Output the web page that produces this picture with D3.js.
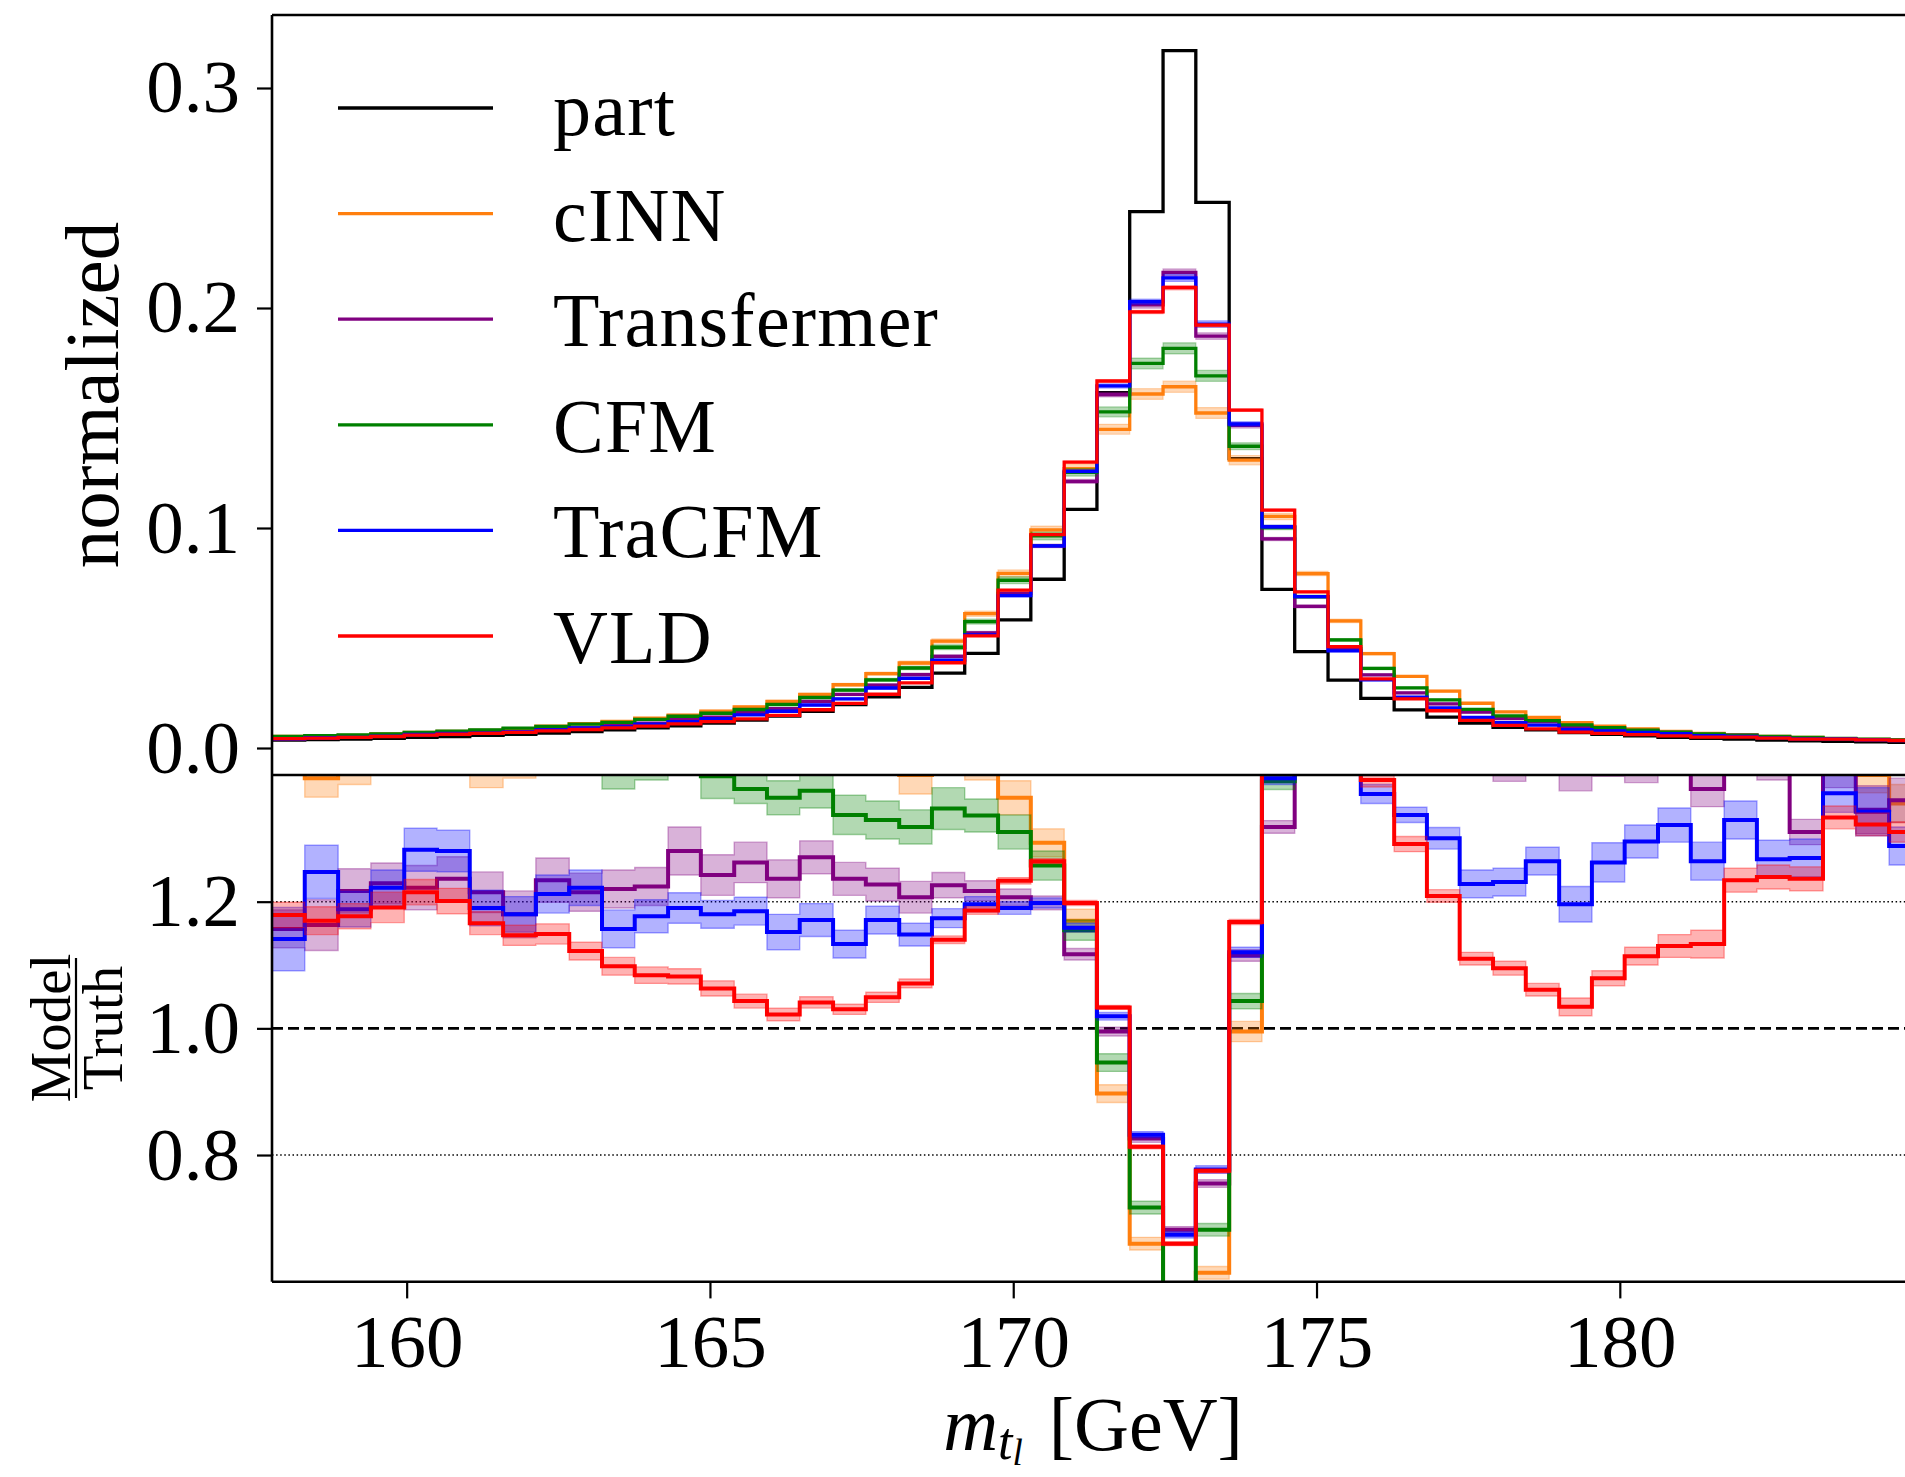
<!DOCTYPE html>
<html><head><meta charset="utf-8">
<script src="https://cdn.jsdelivr.net/npm/d3@7"></script>
<style>
html,body{margin:0;padding:0;background:#fff;}
svg{display:block;}
text{font-family:"Liberation Serif","DejaVu Serif",serif;fill:#000;}
</style></head><body>
<svg id="chart" width="1905" height="1477"></svg>
<script>
// ---------- DATA ----------
const binEdges = [157.78,158.32,158.87,159.41,159.96,160.50,161.04,161.59,162.13,162.68,
  163.22,163.76,164.31,164.85,165.40,165.94,166.48,167.03,167.57,168.12,
  168.66,169.20,169.75,170.29,170.84,171.38,171.92,172.47,173.01,173.56,
  174.10,174.64,175.19,175.73,176.28,176.82,177.36,177.91,178.45,179.00,
  179.54,180.08,180.63,181.17,181.72,182.26,182.80,183.35,183.89,184.44,184.98];

const partValues = [0.0036,0.0038,0.0041,0.0044,0.0048,0.0052,0.0057,0.0062,0.0068,0.0075,
  0.0083,0.0092,0.0101,0.0113,0.0127,0.0145,0.0167,0.0197,0.0233,0.0276,
  0.0340,0.0430,0.0582,0.0767,0.1085,0.1615,0.2438,0.3170,0.2480,0.1315,
  0.0721,0.0438,0.0309,0.0226,0.0173,0.0140,0.0113,0.0094,0.0082,0.0070,
  0.0062,0.0055,0.0049,0.0044,0.0040,0.0036,0.0033,0.0030,0.0028,0.0026];

const ratioCINN = [1.450,1.395,1.410,1.470,1.480,1.460,1.405,1.420,1.460,1.470,
  1.460,1.470,1.480,1.480,1.470,1.460,1.460,1.460,1.450,1.400,
  1.430,1.420,1.364,1.293,1.170,0.897,0.660,0.518,0.614,0.995,
  1.460,1.810,1.870,1.900,1.880,1.850,1.800,1.750,1.700,1.650,
  1.600,1.580,1.550,1.520,1.500,1.480,1.460,1.430,1.400,1.355];
const ratioTransfermer = [1.157,1.163,1.217,1.229,1.222,1.236,1.215,1.180,1.234,1.215,
  1.220,1.224,1.280,1.242,1.262,1.236,1.270,1.236,1.227,1.207,
  1.226,1.217,1.207,1.198,1.117,0.995,0.826,0.682,0.755,1.115,
  1.318,1.470,1.460,1.470,1.450,1.430,1.440,1.420,1.450,1.405,
  1.430,1.420,1.440,1.378,1.450,1.420,1.310,1.410,1.345,1.360];
const ratioCFM = [1.460,1.470,1.450,1.460,1.470,1.470,1.450,1.460,1.440,1.450,
  1.405,1.412,1.430,1.398,1.378,1.364,1.375,1.337,1.329,1.318,
  1.347,1.336,1.310,1.257,1.155,0.946,0.717,0.573,0.682,1.043,
  1.390,1.570,1.590,1.600,1.580,1.560,1.550,1.550,1.520,1.500,
  1.500,1.480,1.470,1.460,1.460,1.450,1.450,1.440,1.440,1.430];
const ratioTraCFM = [1.141,1.247,1.188,1.222,1.282,1.280,1.190,1.180,1.212,1.222,
  1.157,1.177,1.190,1.180,1.185,1.152,1.171,1.133,1.171,1.148,
  1.174,1.196,1.190,1.198,1.159,1.019,0.832,0.674,0.777,1.120,
  1.395,1.570,1.430,1.370,1.337,1.300,1.228,1.231,1.264,1.196,
  1.262,1.295,1.321,1.264,1.329,1.267,1.269,1.371,1.342,1.288];
const ratioVLD = [1.179,1.170,1.177,1.191,1.215,1.201,1.166,1.147,1.149,1.122,
  1.098,1.084,1.082,1.063,1.043,1.022,1.041,1.030,1.049,1.071,
  1.140,1.186,1.233,1.264,1.198,1.033,0.813,0.660,0.775,1.168,
  1.500,1.620,1.490,1.392,1.291,1.209,1.110,1.095,1.061,1.034,
  1.079,1.114,1.130,1.133,1.234,1.239,1.236,1.333,1.322,1.310];

const errCINN = [0.030,0.030,0.025,0.030,0.030,0.030,0.025,0.025,0.030,0.030,
  0.030,0.030,0.030,0.030,0.030,0.030,0.030,0.030,0.030,0.030,
  0.028,0.028,0.027,0.022,0.018,0.014,0.010,0.008,0.010,0.016,
  0.020,0.022,0.025,0.025,0.025,0.025,0.025,0.025,0.025,0.025,
  0.028,0.028,0.028,0.028,0.028,0.028,0.030,0.030,0.028,0.030];
const errTransfermer = [0.030,0.040,0.035,0.032,0.035,0.035,0.032,0.037,0.035,0.030,
  0.030,0.030,0.038,0.032,0.032,0.030,0.026,0.026,0.026,0.025,
  0.020,0.016,0.013,0.011,0.009,0.007,0.006,0.005,0.006,0.009,
  0.010,0.015,0.018,0.020,0.022,0.025,0.028,0.030,0.030,0.030,
  0.032,0.032,0.035,0.028,0.035,0.028,0.020,0.030,0.038,0.035];
const errCFM = [0.030,0.030,0.030,0.030,0.030,0.030,0.030,0.030,0.030,0.030,
  0.027,0.020,0.025,0.035,0.023,0.027,0.027,0.031,0.030,0.027,
  0.033,0.026,0.027,0.023,0.016,0.014,0.010,0.008,0.010,0.012,
  0.013,0.018,0.020,0.022,0.022,0.024,0.025,0.025,0.025,0.025,
  0.025,0.025,0.025,0.028,0.028,0.028,0.028,0.028,0.028,0.028];
const errTraCFM = [0.050,0.042,0.028,0.028,0.034,0.033,0.028,0.028,0.030,0.028,
  0.030,0.026,0.024,0.022,0.022,0.028,0.026,0.022,0.022,0.018,
  0.015,0.012,0.010,0.008,0.007,0.006,0.005,0.005,0.006,0.008,
  0.010,0.012,0.014,0.015,0.012,0.017,0.022,0.022,0.022,0.028,
  0.031,0.026,0.027,0.030,0.030,0.030,0.030,0.030,0.038,0.030];
const errVLD = [0.020,0.022,0.020,0.024,0.020,0.020,0.018,0.016,0.016,0.014,
  0.014,0.013,0.012,0.012,0.011,0.010,0.009,0.008,0.008,0.007,
  0.006,0.006,0.005,0.004,0.004,0.003,0.003,0.003,0.003,0.004,
  0.006,0.008,0.010,0.011,0.012,0.010,0.010,0.011,0.010,0.014,
  0.012,0.014,0.018,0.022,0.019,0.019,0.019,0.018,0.018,0.016];

const seriesNames = ["part","cINN","Transfermer","CFM","TraCFM","VLD"];
const seriesColors = ["#000000","#ff7f0e","#800080","#008000","#0000ff","#ff0000"];
const modelRatios = [ratioCINN, ratioTransfermer, ratioCFM, ratioTraCFM, ratioVLD];
const modelErrors = [errCINN, errTransfermer, errCFM, errTraCFM, errVLD];

const xTicks = [160,165,170,175,180];
const yTicksUpper = [0.0,0.1,0.2,0.3];
const yTicksLower = [0.8,1.0,1.2];

// ---------- LAYOUT ----------
const L = 272, R = 1914, TOP = 15, MID = 775, BOT = 1281.7;
const FONT = "Liberation Serif, DejaVu Serif, serif";
const svg = d3.select("#chart");

const x = d3.scaleLinear().domain([157.78, 184.85]).range([L, R]);
const yU = d3.scaleLinear().domain([-0.01227, 0.33318]).range([MID, TOP]);
const yL = d3.scaleLinear().domain([0.6, 1.4]).range([BOT, MID]);

const defs = svg.append("defs");
defs.append("clipPath").attr("id","clipU").append("rect")
  .attr("x",L).attr("y",TOP).attr("width",R-L).attr("height",MID-TOP);
defs.append("clipPath").attr("id","clipL").append("rect")
  .attr("x",L).attr("y",MID).attr("width",R-L).attr("height",BOT-MID);

const nBins = partValues.length;
function stepPoints(vals){
  return binEdges.map((e,i)=>({x:e, v: vals[Math.min(i, nBins-1)]}));
}
function bandPoints(lo, hi){
  return binEdges.map((e,i)=>{const j=Math.min(i,nBins-1); return {x:e, lo:lo[j], hi:hi[j]};});
}
const lineGen = y => d3.line().x(d=>x(d.x)).y(d=>y(d.v)).curve(d3.curveStepAfter);
const areaGen = y => d3.area().x(d=>x(d.x)).y0(d=>y(d.lo)).y1(d=>y(d.hi)).curve(d3.curveStepAfter);

// ---------- UPPER PANEL ----------
const gU = svg.append("g").attr("clip-path","url(#clipU)");
gU.append("path").datum(stepPoints(partValues))
  .attr("d", lineGen(yU)).attr("fill","none")
  .attr("stroke", seriesColors[0]).attr("stroke-width",3.3);
modelRatios.forEach((rat, m)=>{
  const err = modelErrors[m];
  const col = seriesColors[m+1];
  const vals = partValues.map((p,i)=>p*rat[i]);
  const lo = partValues.map((p,i)=>p*(rat[i]-err[i]));
  const hi = partValues.map((p,i)=>p*(rat[i]+err[i]));
  gU.append("path").datum(bandPoints(lo,hi)).attr("d", areaGen(yU))
    .attr("fill", col).attr("fill-opacity",0.3)
    .attr("stroke", col).attr("stroke-opacity",0.3).attr("stroke-width",1.2);
  gU.append("path").datum(stepPoints(vals)).attr("d", lineGen(yU))
    .attr("fill","none").attr("stroke", col).attr("stroke-width",3.3);
});

// ---------- LOWER PANEL ----------
const gL = svg.append("g").attr("clip-path","url(#clipL)");
gL.append("line").attr("x1",L).attr("x2",R).attr("y1",yL(1.0)).attr("y2",yL(1.0))
  .attr("stroke","#000").attr("stroke-width",2.6).attr("stroke-dasharray","11,5");
[1.2,0.8].forEach(v=>{
  gL.append("line").attr("x1",L).attr("x2",R).attr("y1",yL(v)).attr("y2",yL(v))
    .attr("stroke","#000").attr("stroke-width",1.5).attr("stroke-dasharray","1.5,2.6");
});
modelRatios.forEach((rat, m)=>{
  const err = modelErrors[m];
  const col = seriesColors[m+1];
  const lo = rat.map((r,i)=>r-err[i]);
  const hi = rat.map((r,i)=>r+err[i]);
  gL.append("path").datum(bandPoints(lo,hi)).attr("d", areaGen(yL))
    .attr("fill", col).attr("fill-opacity",0.3)
    .attr("stroke", col).attr("stroke-opacity",0.35).attr("stroke-width",1.4);
  gL.append("path").datum(stepPoints(rat)).attr("d", lineGen(yL))
    .attr("fill","none").attr("stroke", col).attr("stroke-width",4);
});

// ---------- AXES ----------
function styleAxis(g){
  g.select(".domain").remove();
  g.attr("font-family", FONT).attr("font-size", 75);
  g.selectAll(".tick line").attr("stroke","#000").attr("stroke-width",2.2);
  g.selectAll(".tick text").attr("fill","#000");
}
svg.append("g").attr("transform",`translate(${L},0)`)
  .call(d3.axisLeft(yU).tickValues(yTicksUpper).tickFormat(d3.format(".1f"))
        .tickSize(15).tickPadding(17).tickSizeOuter(0))
  .call(styleAxis);
svg.append("g").attr("transform",`translate(${L},0)`)
  .call(d3.axisLeft(yL).tickValues(yTicksLower).tickFormat(d3.format(".1f"))
        .tickSize(15).tickPadding(17).tickSizeOuter(0))
  .call(styleAxis);
svg.append("g").attr("transform",`translate(0,${BOT})`)
  .call(d3.axisBottom(x).tickValues(xTicks).tickFormat(d3.format("d"))
        .tickSize(16.7).tickPadding(15).tickSizeOuter(0))
  .call(styleAxis);

const spines = svg.append("g").attr("stroke","#000").attr("stroke-width",2.6);
spines.append("line").attr("x1",L).attr("x2",L).attr("y1",TOP).attr("y2",BOT);
spines.append("line").attr("x1",L).attr("x2",R).attr("y1",TOP).attr("y2",TOP);
spines.append("line").attr("x1",L).attr("x2",R).attr("y1",MID).attr("y2",MID);
spines.append("line").attr("x1",L).attr("x2",R).attr("y1",BOT).attr("y2",BOT);
spines.append("line").attr("x1",R).attr("x2",R).attr("y1",TOP).attr("y2",BOT);

// ---------- LEGEND ----------
const legendY0 = 108, legendDY = 105.6;
const leg = svg.append("g");
seriesNames.forEach((name,i)=>{
  const yy = legendY0 + i*legendDY;
  leg.append("line").attr("x1",338).attr("x2",493).attr("y1",yy).attr("y2",yy)
    .attr("stroke",seriesColors[i]).attr("stroke-width",3.3);
  leg.append("text").attr("x",553).attr("y",yy+27)
    .attr("font-size",76).attr("letter-spacing",1.2).text(name);
});

// ---------- LABELS ----------
svg.append("text").attr("transform","translate(118,395) rotate(-90)")
  .attr("text-anchor","middle").attr("font-size",77).text("normalized");

const frac = svg.append("g").attr("transform","translate(0,1028) rotate(-90)");
frac.append("text").attr("x",0).attr("y",70).attr("text-anchor","middle")
  .attr("font-size",57).text("Model");
frac.append("line").attr("x1",-70).attr("x2",70).attr("y1",76).attr("y2",76)
  .attr("stroke","#000").attr("stroke-width",2.2);
frac.append("text").attr("x",0).attr("y",122).attr("text-anchor","middle")
  .attr("font-size",57).text("Truth");

const xl = svg.append("text").attr("x",1093).attr("y",1450)
  .attr("text-anchor","middle").attr("font-size",76);
xl.append("tspan").attr("font-style","italic").text("m");
xl.append("tspan").attr("font-style","italic").attr("font-size",52).attr("dy",9).text("t");
xl.append("tspan").attr("font-style","italic").attr("font-size",37).attr("dy",6).text("l");
xl.append("tspan").attr("dy",-15).attr("dx",26).text("[GeV]");
</script>
</body></html>
